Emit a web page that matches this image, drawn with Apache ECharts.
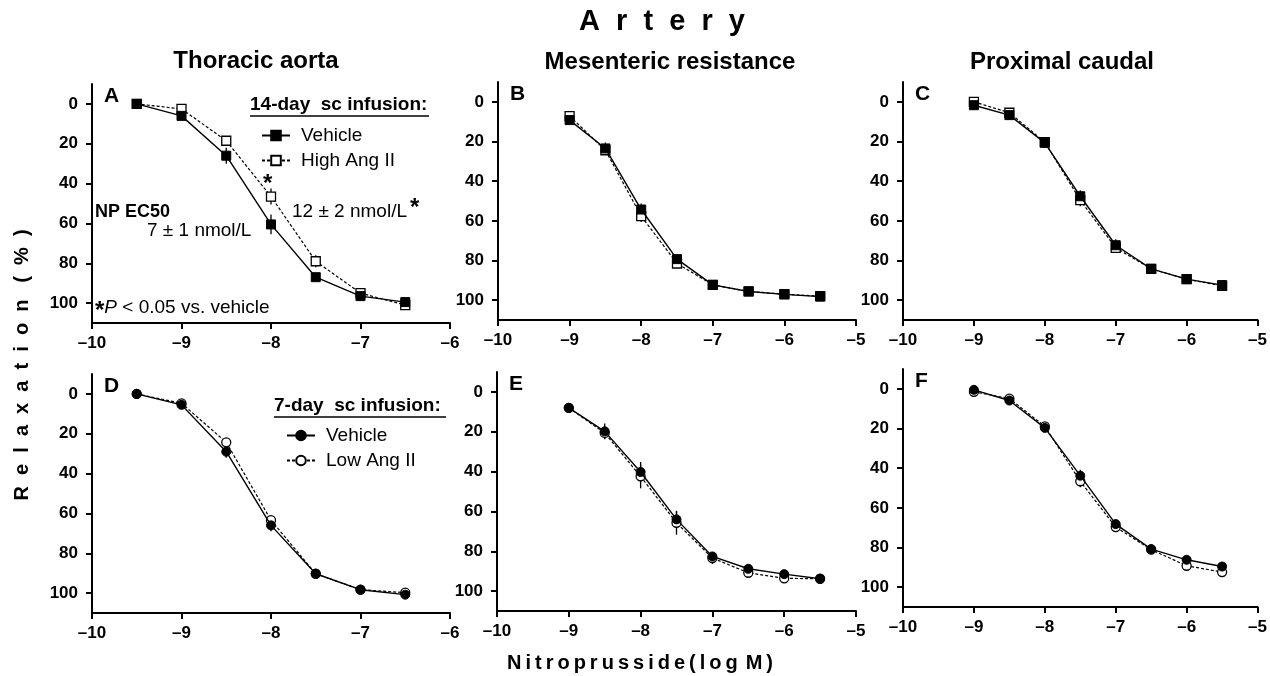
<!DOCTYPE html>
<html>
<head>
<meta charset="utf-8">
<title>Artery</title>
<script src="https://cdn.jsdelivr.net/npm/echarts@6/dist/echarts.min.js"></script>
<style>
  html, body { margin: 0; padding: 0; background: #fff; }
  #main { width: 1270px; height: 676px; }
</style>
</head>
<body>
<div id="main"></div>
<script type="text/javascript">
// doses (log M)
var DOSE_AORTA = [-9.5, -9, -8.5, -8, -7.5, -7, -6.5];
var DOSE_OTHER = [-9, -8.5, -8, -7.5, -7, -6.5, -6, -5.5];

// 14-day infusion: thoracic aorta (A), mesenteric (B), caudal (C)
var A_VEH = [0, 6, 26, 60.5, 87, 96.5, 99.5];
var A_VEH_SEM = [0, 1, 4, 5, 1, 1, 1];
var A_HIGH = [0, 2.5, 18.5, 46.5, 79, 95, 101];
var A_HIGH_SEM = [0, 1, 2, 4, 3, 1, 1];

var B_VEH = [9.2, 23.5, 54.3, 79.3, 92.3, 95.6, 97.1, 98.2];
var B_VEH_SEM = [1, 3, 3, 2, 1, 1, 1, 1];
var B_HIGH = [7.2, 24.4, 57.6, 81.5, 92.3, 95.6, 97, 98];
var B_HIGH_SEM = [1, 2, 3, 2, 1, 1, 1, 1];

var C_VEH = [1.7, 6.7, 20.7, 47.6, 72.3, 84.2, 89.4, 92.4];
var C_VEH_SEM = [1, 1, 1, 3, 3, 1, 1, 1];
var C_HIGH = [0, 5.5, 20.3, 49.6, 73.6, 84.2, 89.4, 92.8];
var C_HIGH_SEM = [1, 1, 1, 3, 2, 1, 1, 1];

// 7-day infusion: thoracic aorta (D), mesenteric (E), caudal (F)
var D_VEH = [0, 5.5, 29, 66, 90.3, 98.3, 100.8];
var D_VEH_SEM = [0, 1, 3, 3, 1, 1, 1];
var D_LOW = [0, 4.7, 24.3, 63.4, 90.3, 98.3, 99.8];
var D_LOW_SEM = [0, 1, 2, 2, 1, 1, 1];

var E_VEH = [8, 19.8, 40.2, 64, 82.6, 88.8, 91.5, 93.8];
var E_VEH_SEM = [1, 4, 5, 4, 2, 1, 1, 1];
var E_LOW = [8, 20.6, 42.4, 65.7, 83.4, 90.8, 93.6, 93.8];
var E_LOW_SEM = [1, 3, 6, 6, 3, 1, 1, 1];

var F_VEH = [0.5, 5.9, 19.7, 43.8, 68.2, 80.8, 86.2, 89.6];
var F_VEH_SEM = [1, 1, 1, 3, 2, 2, 1, 1];
var F_LOW = [1.5, 4.9, 18.9, 46.6, 69.7, 81.1, 89.2, 92.4];
var F_LOW_SEM = [1, 1, 1, 3, 2, 2, 1, 1];

var Y_TICKS = [0, 20, 40, 60, 80, 100];

var FONT = 'Liberation Sans, Arial, sans-serif';

var myChart = echarts.init(document.getElementById('main'), null, { renderer: 'canvas' });

// panel layout (pixels)
var panels = [
  { left: 92,  top: 84,  width: 358, height: 239, xmax: -6, letter: 'A' },
  { left: 498, top: 82,  width: 358, height: 238, xmax: -5, letter: 'B' },
  { left: 903, top: 82,  width: 358, height: 238, xmax: -5, letter: 'C' },
  { left: 92,  top: 374, width: 358, height: 239, xmax: -6, letter: 'D' },
  { left: 497, top: 372, width: 359, height: 239, xmax: -5, letter: 'E' },
  { left: 903, top: 369, width: 358, height: 238, xmax: -5, letter: 'F' }
];

var grids = [], xAxes = [], yAxes = [], series = [], graphics = [];

function pairs(xs, ys) {
  var out = [];
  for (var i = 0; i < xs.length; i++) out.push([xs[i], ys[i]]);
  return out;
}
function errPairs(xs, ys, sem) {
  var out = [];
  for (var i = 0; i < xs.length; i++) out.push([xs[i], ys[i] - sem[i], ys[i] + sem[i]]);
  return out;
}

panels.forEach(function (p, i) {
  grids.push({ left: p.left, top: p.top, width: p.width, height: p.height, containLabel: false });
  xAxes.push({
    gridIndex: i, type: 'value', min: -10, max: p.xmax, interval: 1,
    splitLine: { show: false },
    axisLine: { onZero: false, lineStyle: { color: '#000', width: 2 } },
    axisTick: { length: 6, lineStyle: { color: '#000', width: 2 } },
    axisLabel: {
      margin: 12, color: '#000', fontFamily: FONT, fontWeight: 'bold', fontSize: 17,
      formatter: function (v) { return String(v).replace('-', '\u2013'); }
    }
  });
  yAxes.push({
    gridIndex: i, type: 'value', inverse: true, min: -10, max: 110,
    splitLine: { show: false },
    axisLine: { onZero: false, lineStyle: { color: '#000', width: 2 } },
    axisTick: { customValues: Y_TICKS, length: 6, lineStyle: { color: '#000', width: 2 } },
    axisLabel: {
      customValues: Y_TICKS, margin: 14, color: '#000',
      fontFamily: FONT, fontWeight: 'bold', fontSize: 17
    }
  });
  graphics.push({
    type: 'text', left: p.left + 12, top: p.top + 2,
    style: { text: p.letter, font: 'bold 21px ' + FONT, fill: '#000' }
  });
});

function addGroup(idx, xs, veh, vehSem, ang, angSem, vehName, angName, shape) {
  var filled = shape === 'square' ? 'rect' : 'circle';
  var errBar = function (params, api) {
    var a = api.coord([api.value(0), api.value(1)]);
    var b = api.coord([api.value(0), api.value(2)]);
    return {
      type: 'line',
      shape: { x1: a[0], y1: a[1], x2: b[0], y2: b[1] },
      style: { stroke: '#000', lineWidth: 1.3 }
    };
  };
  series.push({
    type: 'custom', xAxisIndex: idx, yAxisIndex: idx, z: 1, silent: true,
    renderItem: errBar, data: errPairs(xs, veh, vehSem)
  });
  series.push({
    type: 'custom', xAxisIndex: idx, yAxisIndex: idx, z: 1, silent: true,
    renderItem: errBar, data: errPairs(xs, ang, angSem)
  });
  series.push({
    name: angName, type: 'line', xAxisIndex: idx, yAxisIndex: idx, z: 3,
    data: pairs(xs, ang),
    symbol: filled, symbolSize: 9,
    showAllSymbol: true,
    lineStyle: { color: '#000', width: 1.2, type: [3, 2] },
    itemStyle: { color: '#fff', borderColor: '#000', borderWidth: 1.3 },
    animation: false
  });
  series.push({
    name: vehName, type: 'line', xAxisIndex: idx, yAxisIndex: idx, z: 4,
    data: pairs(xs, veh),
    symbol: filled, symbolSize: 9,
    showAllSymbol: true,
    lineStyle: { color: '#000', width: 1.4, type: 'solid' },
    itemStyle: { color: '#000', borderColor: '#000', borderWidth: 1 },
    animation: false
  });
}

addGroup(0, DOSE_AORTA, A_VEH, A_VEH_SEM, A_HIGH, A_HIGH_SEM, 'Vehicle (14-day)', 'High Ang II', 'square');
addGroup(1, DOSE_OTHER, B_VEH, B_VEH_SEM, B_HIGH, B_HIGH_SEM, 'Vehicle (14-day)', 'High Ang II', 'square');
addGroup(2, DOSE_OTHER, C_VEH, C_VEH_SEM, C_HIGH, C_HIGH_SEM, 'Vehicle (14-day)', 'High Ang II', 'square');
addGroup(3, DOSE_AORTA, D_VEH, D_VEH_SEM, D_LOW, D_LOW_SEM, 'Vehicle (7-day)', 'Low Ang II', 'circle');
addGroup(4, DOSE_OTHER, E_VEH, E_VEH_SEM, E_LOW, E_LOW_SEM, 'Vehicle (7-day)', 'Low Ang II', 'circle');
addGroup(5, DOSE_OTHER, F_VEH, F_VEH_SEM, F_LOW, F_LOW_SEM, 'Vehicle (7-day)', 'Low Ang II', 'circle');

var legendText = {
  color: '#000', fontFamily: FONT, fontSize: 19, lineHeight: 18, padding: [0, 0, 0, 6]
};
function legendName(name) { return name.replace(/ \(\d+-day\)/, ''); }

// headings and annotations
graphics.push(
  { type: 'text', x: 662, y: 22, style: { text: 'A  r  t  e  r  y', font: 'bold 29px ' + FONT, fill: '#000', align: 'center', verticalAlign: 'middle' } },
  { type: 'text', x: 256, y: 61, style: { text: 'Thoracic aorta', font: 'bold 24px ' + FONT, fill: '#000', align: 'center', verticalAlign: 'middle' } },
  { type: 'text', x: 670, y: 62, style: { text: 'Mesenteric resistance', font: 'bold 24px ' + FONT, fill: '#000', align: 'center', verticalAlign: 'middle' } },
  { type: 'text', x: 1062, y: 62, style: { text: 'Proximal caudal', font: 'bold 24px ' + FONT, fill: '#000', align: 'center', verticalAlign: 'middle' } },
  { type: 'text', x: 22, y: 365, rotation: Math.PI / 2, style: { text: 'R  e  l  a  x  a  t  i  o  n   (  %  )', font: 'bold 20px ' + FONT, fill: '#000', align: 'center', verticalAlign: 'middle' } },
  { type: 'text', x: 640, y: 663, style: { text: 'N\u2009i\u2009t\u2009r\u2009o\u2009p\u2009r\u2009u\u2009s\u2009s\u2009i\u2009d\u2009e\u2009(\u2009l\u2009o\u2009g\u2009\u2009M\u2009)', font: 'bold 20px ' + FONT, fill: '#000', align: 'center', verticalAlign: 'middle' } },
  // legend headings
  { type: 'text', x: 250, y: 105, style: { text: '14-day  sc infusion:', font: 'bold 19px ' + FONT, fill: '#000', verticalAlign: 'middle' } },
  { type: 'line', shape: { x1: 250, y1: 116, x2: 429, y2: 116 }, style: { stroke: '#000', lineWidth: 1.5 } },
  { type: 'text', x: 274, y: 406, style: { text: '7-day  sc infusion:', font: 'bold 19px ' + FONT, fill: '#000', verticalAlign: 'middle' } },
  { type: 'line', shape: { x1: 274, y1: 417, x2: 446, y2: 417 }, style: { stroke: '#000', lineWidth: 1.5 } },
  // EC50 annotations (panel A)
  { type: 'text', x: 95, y: 212, style: { text: 'NP EC50', font: 'bold 18px ' + FONT, fill: '#000', verticalAlign: 'middle' } },
  { type: 'text', x: 147, y: 231, style: { text: '7 \u00b1 1 nmol/L', font: '19px ' + FONT, fill: '#000', verticalAlign: 'middle' } },
  { type: 'text', x: 292, y: 212, style: { text: '12 \u00b1 2 nmol/L', font: '19px ' + FONT, fill: '#000', verticalAlign: 'middle' } },
  { type: 'text', x: 410, y: 208, style: { text: '*', font: 'bold 24px ' + FONT, fill: '#000', verticalAlign: 'middle' } },
  { type: 'text', x: 263, y: 184, style: { text: '*', font: 'bold 24px ' + FONT, fill: '#000', verticalAlign: 'middle' } },
  { type: 'text', x: 95, y: 308, style: {
      text: '{s|*}{i|P} < 0.05 vs. vehicle', font: '19px ' + FONT, fill: '#000', verticalAlign: 'middle',
      rich: {
        s: { fontFamily: FONT, fontSize: 24, fontWeight: 'bold', padding: [6, 0, 0, 0] },
        i: { fontFamily: FONT, fontSize: 19, fontStyle: 'italic' }
      }
  } }
);

myChart.setOption({
  animation: false,
  backgroundColor: '#fff',
  grid: grids,
  xAxis: xAxes,
  yAxis: yAxes,
  legend: [
    {
      data: ['Vehicle (14-day)', 'High Ang II'], orient: 'vertical', left: 256, top: 121,
      itemWidth: 28, itemHeight: 12, itemGap: 6, selectedMode: false,
      formatter: legendName, textStyle: legendText
    },
    {
      data: ['Vehicle (7-day)', 'Low Ang II'], orient: 'vertical', left: 281, top: 421,
      itemWidth: 28, itemHeight: 12, itemGap: 6, selectedMode: false,
      formatter: legendName, textStyle: legendText
    }
  ],
  graphic: graphics,
  series: series
});
</script>
</body>
</html>
